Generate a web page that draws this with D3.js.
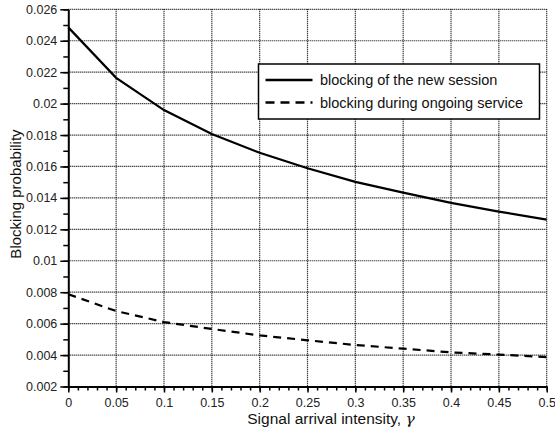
<!DOCTYPE html>
<html>
<head>
<meta charset="utf-8">
<script src="https://cdn.jsdelivr.net/npm/d3@7"></script>
<style>
  body { margin: 0; background: #fff; }
  svg { font-family: "Liberation Sans", Arial, Helvetica, sans-serif; }
</style>
</head>
<body>
<div id="chart"></div>
<script>
// signal arrival intensity (x values)
var gamma = [0, 0.05, 0.1, 0.15, 0.2, 0.25, 0.3, 0.35, 0.4, 0.45, 0.5];

// blocking probabilities
var newSession = [0.02485, 0.02164, 0.01959, 0.01806, 0.01687, 0.01589,
                  0.01502, 0.01434, 0.01368, 0.01313, 0.01262];
var ongoing    = [0.00787, 0.00680, 0.00610, 0.00566, 0.00525, 0.00494,
                  0.00464, 0.00441, 0.00417, 0.00403, 0.00387];

var xTicks = [0, 0.05, 0.1, 0.15, 0.2, 0.25, 0.3, 0.35, 0.4, 0.45, 0.5];
var yTicks = [0.002, 0.004, 0.006, 0.008, 0.01, 0.012, 0.014, 0.016,
              0.018, 0.02, 0.022, 0.024, 0.026];
var seriesNames = ["blocking of the new session", "blocking during ongoing service"];

var W = 555, H = 440;
var margin = {top: 9.3, left: 68.3, right: 8.3, bottom: 53.5};
var w = W - margin.left - margin.right;
var h = H - margin.top - margin.bottom;

var svg = d3.select("#chart").append("svg")
  .attr("width", W)
  .attr("height", H);

var g = svg.append("g")
  .attr("transform", "translate(" + margin.left + "," + margin.top + ")");

var x = d3.scaleLinear().domain([0, 0.5]).range([0, w]);
var y = d3.scaleLinear().domain([0.002, 0.026]).range([h, 0]);

// dotted grid at every major tick
g.append("g").selectAll("line")
  .data(xTicks.filter(function(d) { return d > 0; }))
  .enter().append("line")
  .attr("x1", function(d) { return x(d); })
  .attr("x2", function(d) { return x(d); })
  .attr("y1", 0).attr("y2", h)
  .attr("stroke", "#000").attr("stroke-width", 1.2)
  .attr("stroke-dasharray", "1,1");

g.append("g").selectAll("line")
  .data(yTicks.filter(function(d) { return d > 0.002; }))
  .enter().append("line")
  .attr("x1", 0).attr("x2", w)
  .attr("y1", function(d) { return y(d); })
  .attr("y2", function(d) { return y(d); })
  .attr("stroke", "#000").attr("stroke-width", 1.2)
  .attr("stroke-dasharray", "1,1");

// minor ticks
var xMinor = d3.range(0, 0.5001, 0.01);
var yMinor = d3.range(0.002, 0.02601, 0.001);

g.append("g")
  .attr("transform", "translate(0," + h + ")")
  .call(d3.axisBottom(x).tickValues(xMinor).tickSize(4).tickFormat(""))
  .call(function(a) { a.select(".domain").remove(); })
  .selectAll("line").attr("stroke-width", 1.5);

g.append("g")
  .call(d3.axisLeft(y).tickValues(yMinor).tickSize(5).tickFormat(""))
  .call(function(a) { a.select(".domain").remove(); })
  .selectAll("line").attr("stroke-width", 1.5);

// major axes
var xAxis = g.append("g")
  .attr("transform", "translate(0," + h + ")")
  .call(d3.axisBottom(x).tickValues(xTicks).tickSize(6).tickSizeOuter(0).tickPadding(6)
    .tickFormat(function(d) { return d3.format("")(+d.toFixed(2)); }));
xAxis.select(".domain").attr("stroke-width", 2);
xAxis.selectAll("line").attr("stroke-width", 1.5);
xAxis.selectAll("text").attr("font-size", 12.5).attr("fill", "#222")
  .attr("font-family", "Liberation Sans, Arial, sans-serif");

var yAxis = g.append("g")
  .call(d3.axisLeft(y).tickValues(yTicks).tickSize(8).tickSizeOuter(0).tickPadding(3)
    .tickFormat(function(d) { return d3.format("")(+d.toFixed(3)); }));
yAxis.select(".domain").attr("stroke-width", 2);
yAxis.selectAll("line").attr("stroke-width", 1.5);
yAxis.selectAll("text").attr("font-size", 12.5).attr("fill", "#222")
  .attr("font-family", "Liberation Sans, Arial, sans-serif");

// curves
var line = d3.line()
  .x(function(d) { return x(d[0]); })
  .y(function(d) { return y(d[1]); });

g.append("path")
  .datum(d3.zip(gamma, newSession))
  .attr("d", line)
  .attr("fill", "none").attr("stroke", "#000").attr("stroke-width", 2.2);

g.append("path")
  .datum(d3.zip(gamma, ongoing))
  .attr("d", line)
  .attr("fill", "none").attr("stroke", "#000").attr("stroke-width", 2.2)
  .attr("stroke-dasharray", "8,6");

// legend
var leg = svg.append("g").attr("transform", "translate(258.5,64)");
leg.append("rect")
  .attr("width", 281).attr("height", 55)
  .attr("fill", "#fff").attr("stroke", "#000").attr("stroke-width", 1.5);

var dashes = [null, "9,6"];
seriesNames.forEach(function(name, i) {
  var ly = 16 + i * 22.5;
  leg.append("line")
    .attr("x1", 7).attr("x2", 54)
    .attr("y1", ly).attr("y2", ly)
    .attr("stroke", "#000").attr("stroke-width", 2.5)
    .attr("stroke-dasharray", dashes[i]);
  leg.append("text")
    .attr("x", 61.5).attr("y", ly + 5)
    .attr("font-size", 14.5).attr("fill", "#111")
    .text(name);
});

// axis titles
svg.append("text")
  .attr("x", 331).attr("y", 424)
  .attr("text-anchor", "middle")
  .attr("font-size", 15.5).attr("fill", "#111")
  .text("Signal arrival intensity, ")
  .append("tspan")
  .attr("font-family", "DejaVu Serif, serif")
  .attr("font-style", "italic")
  .text("\u03B3");

svg.append("text")
  .attr("transform", "translate(21,194) rotate(-90)")
  .attr("text-anchor", "middle")
  .attr("font-size", 15).attr("fill", "#111")
  .text("Blocking probability");
</script>
</body>
</html>
